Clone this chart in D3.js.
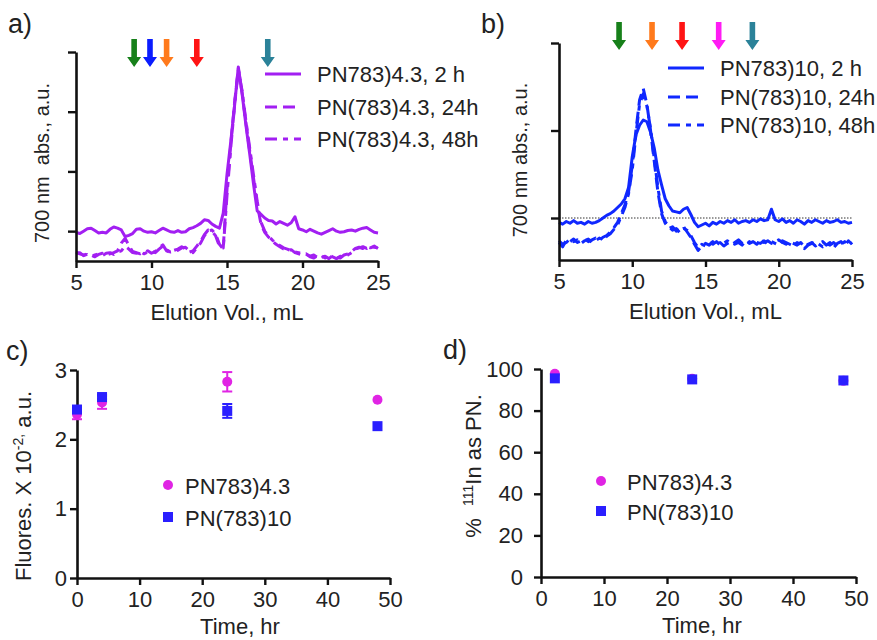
<!DOCTYPE html>
<html>
<head>
<meta charset="utf-8">
<script src="https://cdn.jsdelivr.net/npm/d3@7"></script>
<style>
  body { margin: 0; background: #fff; }
  svg text { font-family: "Liberation Sans", Arial, sans-serif; fill: #222; }
</style>
</head>
<body>
<div id="fig"></div>
<script>
// elution volume grid (mL), shared by the chromatograms
const vol = [5, 5.25, 5.5, 5.75, 6, 6.25, 6.5, 6.75, 7, 7.25, 7.5, 7.75, 8, 8.25, 8.5, 8.75,
  9, 9.25, 9.5, 9.75, 10, 10.25, 10.5, 10.75, 11, 11.25, 11.5, 11.75, 12, 12.25, 12.5, 12.75,
  13, 13.25, 13.5, 13.75, 14, 14.25, 14.5, 14.75, 15, 15.25, 15.5, 15.75, 16, 16.25, 16.5, 16.75,
  17, 17.25, 17.5, 17.75, 18, 18.25, 18.5, 18.75, 19, 19.25, 19.5, 19.75, 20, 20.25, 20.5, 20.75,
  21, 21.25, 21.5, 21.75, 22, 22.25, 22.5, 22.75, 23, 23.25, 23.5, 23.75, 24, 24.25, 24.5, 24.75, 25];

// panel a: PN(783)4.3
const a2h = [-0.02, -0.04, 0.00, 0.04, 0.05, 0.01, -0.03, -0.02, -0.03, 0.03, 0.07, 0.05, 0.02, -0.09, -0.07, -0.04,
  0.03, 0.04, 0.00, -0.02, -0.01, -0.03, 0.01, 0.05, 0.02, -0.01, -0.02, 0.01, -0.02, -0.01, 0.04, 0.06,
  0.09, 0.13, 0.19, 0.18, 0.12, 0.08, 0.05, 0.30, 0.95, 1.50, 2.10, 2.75, 2.30, 1.78, 1.30, 0.80,
  0.34, 0.28, 0.22, 0.18, 0.17, 0.12, 0.16, 0.13, 0.10, 0.14, 0.24, 0.04, 0.02, -0.01, 0.03, 0.00,
  -0.03, -0.05, -0.02, 0.01, 0.04, 0.00, -0.02, -0.01, 0.01, 0.02, 0.00, 0.03, 0.05, 0.06, 0.02, -0.02, -0.03];
const a24h = [-0.37, -0.36, -0.41, -0.38, -0.40, -0.43, -0.39, -0.37, -0.40, -0.38, -0.36, -0.33, -0.20, -0.12, -0.24, -0.34,
  -0.36, -0.38, -0.35, -0.33, -0.37, -0.34, -0.28, -0.23, -0.33, -0.36, -0.32, -0.30, -0.26, -0.30, -0.35, -0.33,
  -0.25, -0.17, -0.06, 0.02, 0.00, -0.08, -0.25, -0.28, 0.70, 1.45, 2.15, 2.72, 2.32, 1.82, 1.35, 0.90,
  0.45, 0.12, -0.02, -0.10, -0.17, -0.22, -0.26, -0.30, -0.32, -0.31, -0.36, -0.38, -0.40, -0.38, -0.43, -0.45,
  -0.41, -0.44, -0.42, -0.46, -0.41, -0.44, -0.45, -0.40, -0.38, -0.34, -0.29, -0.27, -0.29, -0.26, -0.28, -0.25, -0.29];
const a48h = [-0.35, -0.38, -0.40, -0.39, -0.42, -0.40, -0.38, -0.41, -0.37, -0.36, -0.39, -0.35, -0.33, -0.25, -0.30, -0.36,
  -0.37, -0.34, -0.38, -0.35, -0.34, -0.36, -0.30, -0.25, -0.31, -0.35, -0.34, -0.32, -0.28, -0.27, -0.33, -0.36,
  -0.28, -0.20, -0.08, 0.00, 0.02, -0.05, -0.22, -0.30, 0.60, 1.40, 2.10, 2.70, 2.35, 1.85, 1.40, 0.95,
  0.50, 0.15, 0.00, -0.08, -0.15, -0.20, -0.24, -0.28, -0.30, -0.33, -0.35, -0.36, -0.37, -0.39, -0.42, -0.40,
  -0.44, -0.41, -0.45, -0.40, -0.43, -0.46, -0.42, -0.44, -0.40, -0.36, -0.30, -0.28, -0.26, -0.29, -0.25, -0.27, -0.28];

// panel b: PN(783)10
const b2h = [-0.05, -0.07, -0.04, -0.06, -0.03, -0.06, -0.05, -0.07, -0.04, -0.06, -0.05, -0.03, 0.00, 0.03, 0.05, 0.08,
  0.12, 0.16, 0.22, 0.35, 0.70, 0.95, 1.06, 1.12, 1.10, 0.98, 0.80, 0.55, 0.38, 0.22, 0.14, 0.08,
  0.07, 0.06, 0.10, 0.12, 0.04, -0.05, -0.10, -0.08, -0.06, -0.09, -0.05, -0.07, -0.04, -0.06, -0.03, -0.05,
  -0.02, -0.06, -0.04, -0.03, -0.05, -0.02, -0.04, -0.01, -0.03, -0.02, 0.10, -0.02, -0.04, -0.01, -0.05, -0.03,
  -0.06, -0.02, -0.04, -0.07, -0.03, -0.05, -0.02, -0.04, -0.06, -0.03, -0.05, -0.04, -0.02, -0.05, -0.04, -0.06, -0.05];
const b24h = [-0.28, -0.33, -0.25, -0.27, -0.24, -0.28, -0.26, -0.24, -0.27, -0.25, -0.23, -0.26, -0.22, -0.20, -0.16, -0.11,
  -0.05, 0.05, 0.15, 0.30, 0.60, 1.00, 1.35, 1.48, 1.30, 1.00, 0.65, 0.30, 0.05, -0.06, -0.12, -0.10,
  -0.15, -0.13, -0.10, -0.16, -0.22, -0.30, -0.37, -0.32, -0.29, -0.31, -0.27, -0.30, -0.28, -0.32, -0.29, -0.27,
  -0.30, -0.28, -0.31, -0.26, -0.29, -0.27, -0.30, -0.25, -0.28, -0.26, -0.29, -0.27, -0.25, -0.28, -0.30, -0.27,
  -0.29, -0.31, -0.28, -0.33, -0.30, -0.28, -0.32, -0.29, -0.27, -0.31, -0.28, -0.34, -0.29, -0.27, -0.32, -0.26, -0.30];
const b48h = [-0.26, -0.30, -0.28, -0.24, -0.27, -0.25, -0.29, -0.26, -0.24, -0.28, -0.26, -0.23, -0.25, -0.21, -0.18, -0.13,
  -0.08, 0.02, 0.12, 0.28, 0.55, 0.95, 1.30, 1.42, 1.28, 1.02, 0.68, 0.35, 0.08, -0.04, -0.10, -0.14,
  -0.12, -0.17, -0.12, -0.14, -0.20, -0.28, -0.34, -0.30, -0.32, -0.28, -0.30, -0.27, -0.31, -0.29, -0.26, -0.30,
  -0.28, -0.25, -0.29, -0.31, -0.27, -0.30, -0.28, -0.29, -0.26, -0.30, -0.27, -0.29, -0.31, -0.26, -0.28, -0.30,
  -0.32, -0.28, -0.30, -0.35, -0.31, -0.29, -0.27, -0.30, -0.33, -0.29, -0.31, -0.28, -0.32, -0.30, -0.27, -0.31, -0.28];

// marker arrows (elution volume, colour)
const arrowsA = [[8.85, '#17801a'], [9.9, '#0a1cff'], [11.0, '#ff7a1c'], [13.0, '#ff1414'], [17.7, '#2b8299']];
const arrowsB = [[9.1, '#17801a'], [11.35, '#ff7a1c'], [13.4, '#ff1414'], [15.9, '#ff1cf4'], [18.2, '#2b8299']];

const legendA = ['PN783)4.3, 2 h', 'PN(783)4.3, 24h', 'PN(783)4.3, 48h'];
const legendB = ['PN783)10, 2 h', 'PN(783)10, 24h', 'PN(783)10, 48h'];

// panels c, d
const timeC = [0, 4, 24, 48];
const fluorLow = [2.36, 2.53, 2.83, 2.57];
const fluorLowErr = [0.07, 0.09, 0.14, 0];
const fluorHigh = [2.43, 2.61, 2.41, 2.19];
const fluorHighErr = [0.02, 0.03, 0.10, 0];

const timeD = [2.2, 24, 48];
const inLow = [97.7, 95.3, 94.3];
const inHigh = [95.5, 95.0, 94.5];

const legendCD = ['PN783)4.3', 'PN(783)10'];

const purple = '#a21ff2', blue = '#1028ff', magenta = '#e024e4', sqBlue = '#2a1fff';
const dashes = [null, '12,6', '12,6,5,6'];

const svg = d3.select('#fig').append('svg')
  .attr('width', 877).attr('height', 640);

function styleAxis(g) {
  g.select('.domain').attr('stroke', '#111').attr('stroke-width', 2.6);
  g.selectAll('.tick line').attr('stroke', '#111').attr('stroke-width', 2.4);
  g.selectAll('.tick text').style('font-size', '22px').attr('fill', '#222');
}

function chromPanel(opt) {
  const x = d3.scaleLinear().domain([5, 25]).range(opt.xr);
  const y = d3.scaleLinear().domain(opt.yd).range(opt.yr);

  if (opt.refLine) {
    svg.append('line')
      .attr('x1', x(5)).attr('x2', x(25)).attr('y1', y(0)).attr('y2', y(0))
      .attr('stroke', '#333').attr('stroke-width', 1).attr('stroke-dasharray', '1.5,1.5');
  }

  const line = d3.line().x((d, i) => x(vol[i])).y(d => y(d));
  opt.series.forEach((s, k) => {
    svg.append('path').datum(s)
      .attr('d', line)
      .attr('fill', 'none')
      .attr('stroke', opt.color)
      .attr('stroke-width', 3)
      .attr('stroke-linejoin', 'round')
      .attr('stroke-dasharray', dashes[k]);
  });

  const xg = svg.append('g')
    .attr('transform', `translate(0,${opt.yr[0]})`)
    .call(d3.axisBottom(x).tickValues([5, 10, 15, 20, 25]).tickSize(7).tickSizeOuter(0).tickPadding(6));
  styleAxis(xg);
  const yg = svg.append('g')
    .attr('transform', `translate(${opt.xr[0]},0)`)
    .call(d3.axisLeft(y).tickValues(opt.yTicks).tickSize(8).tickSizeOuter(0).tickFormat(''));
  styleAxis(yg);

  svg.append('text')
    .attr('x', (opt.xr[0] + opt.xr[1]) / 2).attr('y', opt.yr[0] + 59)
    .attr('text-anchor', 'middle').style('font-size', '22px')
    .text('Elution Vol., mL');
  svg.append('text')
    .attr('transform', `translate(${opt.yTitleX},${opt.yTitleY}) rotate(-90)`)
    .attr('text-anchor', 'middle').style('font-size', '20px')
    .attr('xml:space', 'preserve')
    .text(opt.yTitle);

  // arrows
  opt.arrows.forEach(([v, c]) => {
    const cx = x(v), t = opt.arrowTop, h = 28;
    svg.append('path')
      .attr('d', `M${cx - 2.8},${t} L${cx + 2.8},${t} L${cx + 2.8},${t + h - 10} L${cx + 7},${t + h - 10} L${cx},${t + h} L${cx - 7},${t + h - 10} L${cx - 2.8},${t + h - 10} Z`)
      .attr('fill', c);
  });

  // legend
  opt.legend.forEach((name, k) => {
    const ly = opt.legY[k];
    svg.append('line')
      .attr('x1', opt.legX).attr('x2', opt.legX + 36).attr('y1', ly).attr('y2', ly)
      .attr('stroke', opt.color).attr('stroke-width', 3.2)
      .attr('stroke-dasharray', dashes[k]);
    svg.append('text')
      .attr('x', opt.legX + 52).attr('y', ly + 8)
      .style('font-size', '22px').text(name);
  });

  svg.append('text').attr('x', opt.label[0]).attr('y', opt.label[1])
    .style('font-size', '27px').text(opt.labelText);
}

chromPanel({
  xr: [76, 378], yd: [-0.5, 3], yr: [261, 52], yTicks: [0, 1, 2, 3],
  series: [a2h, a24h, a48h], color: purple,
  yTitle: '700 nm  abs., a.u.', yTitleX: 49, yTitleY: 163,
  arrows: arrowsA, arrowTop: 39,
  legend: legendA, legX: 265, legY: [74, 107, 139],
  label: [8, 33], labelText: 'a)'
});

chromPanel({
  xr: [559, 852], yd: [-0.48, 2], yr: [260, 43], yTicks: [0, 1, 2],
  series: [b2h, b24h, b48h], color: blue, refLine: true,
  yTitle: '700 nm abs., a.u.', yTitleX: 527, yTitleY: 160,
  arrows: arrowsB, arrowTop: 22,
  legend: legendB, legX: 668, legY: [68, 97, 125],
  label: [481, 33], labelText: 'b)'
});

function scatterPanel(opt) {
  const x = d3.scaleLinear().domain([0, 50]).range(opt.xr);
  const y = d3.scaleLinear().domain(opt.yd).range(opt.yr);

  const xg = svg.append('g')
    .attr('transform', `translate(0,${opt.yr[0]})`)
    .call(d3.axisBottom(x).tickValues([0, 10, 20, 30, 40, 50]).tickSize(7).tickSizeOuter(0).tickPadding(6));
  styleAxis(xg);
  const yg = svg.append('g')
    .attr('transform', `translate(${opt.xr[0]},0)`)
    .call(d3.axisLeft(y).tickValues(opt.yTicks).tickFormat(d3.format('d'))
      .tickSize(opt.yTick).tickSizeOuter(0).tickPadding(opt.yPad));
  styleAxis(yg);

  // error bars
  const errs = [[opt.low, opt.lowErr, magenta], [opt.high, opt.highErr, sqBlue]];
  errs.forEach(([vals, err, c]) => {
    if (!err) return;
    vals.forEach((v, i) => {
      if (!err[i]) return;
      const cx = x(opt.time[i]);
      const g = svg.append('g').attr('stroke', c).attr('stroke-width', 2);
      g.append('line').attr('x1', cx).attr('x2', cx).attr('y1', y(v - err[i])).attr('y2', y(v + err[i]));
      g.append('line').attr('x1', cx - 5).attr('x2', cx + 5).attr('y1', y(v - err[i])).attr('y2', y(v - err[i]));
      g.append('line').attr('x1', cx - 5).attr('x2', cx + 5).attr('y1', y(v + err[i])).attr('y2', y(v + err[i]));
    });
  });

  svg.append('g').selectAll('circle').data(opt.low).join('circle')
    .attr('cx', (d, i) => x(opt.time[i])).attr('cy', d => y(d))
    .attr('r', 5).attr('fill', magenta);
  svg.append('g').selectAll('rect').data(opt.high).join('rect')
    .attr('x', (d, i) => x(opt.time[i]) - 5).attr('y', d => y(d) - 5)
    .attr('width', 10).attr('height', 10).attr('fill', sqBlue);

  // legend
  svg.append('circle').attr('cx', opt.legX).attr('cy', opt.legY[0]).attr('r', 5).attr('fill', magenta);
  svg.append('rect').attr('x', opt.legX - 5).attr('y', opt.legY[1] - 5).attr('width', 10).attr('height', 10).attr('fill', sqBlue);
  legendCD.forEach((name, k) => {
    svg.append('text').attr('x', opt.legX + opt.legDx).attr('y', opt.legY[k] + 9)
      .style('font-size', '22px').text(name);
  });

  svg.append('text')
    .attr('x', opt.xTitleX).attr('y', opt.yr[0] + 56)
    .attr('text-anchor', 'middle').style('font-size', '22px')
    .text('Time, hr');

  const yt = svg.append('text')
    .attr('transform', `translate(${opt.yTitleX},${opt.yTitleY}) rotate(-90)`)
    .attr('text-anchor', 'middle').style('font-size', '22px');
  opt.yTitle(yt);

  svg.append('text').attr('x', opt.label[0]).attr('y', opt.label[1])
    .style('font-size', '27px').text(opt.labelText);
}

scatterPanel({
  xr: [77, 390], yd: [0, 3], yr: [578, 370], yTicks: [0, 1, 2, 3], yTick: 7, yPad: 3,
  time: timeC, low: fluorLow, lowErr: fluorLowErr, high: fluorHigh, highErr: fluorHighErr,
  legX: 168, legY: [485, 517], legDx: 17,
  xTitleX: 240, yTitleX: 31, yTitleY: 486,
  yTitle: t => {
    t.append('tspan').text('Fluores. X 10');
    t.append('tspan').attr('dy', -8).style('font-size', '14px').text('-2,');
    t.append('tspan').attr('dy', 8).text(' a.u.');
  },
  label: [6, 360], labelText: 'c)'
});

scatterPanel({
  xr: [541, 856], yd: [0, 100], yr: [577, 369], yTicks: [0, 20, 40, 60, 80, 100], yTick: 7, yPad: 11,
  time: timeD, low: inLow, high: inHigh,
  legX: 601, legY: [481, 511], legDx: 26,
  xTitleX: 702, yTitleX: 481, yTitleY: 466,
  yTitle: t => {
    t.append('tspan').attr('xml:space', 'preserve').text('%  ');
    t.append('tspan').attr('dy', -8).style('font-size', '14px').text('111');
    t.append('tspan').attr('dy', 8).text('In as PN.');
  },
  label: [443, 359], labelText: 'd)'
});
</script>
</body>
</html>
